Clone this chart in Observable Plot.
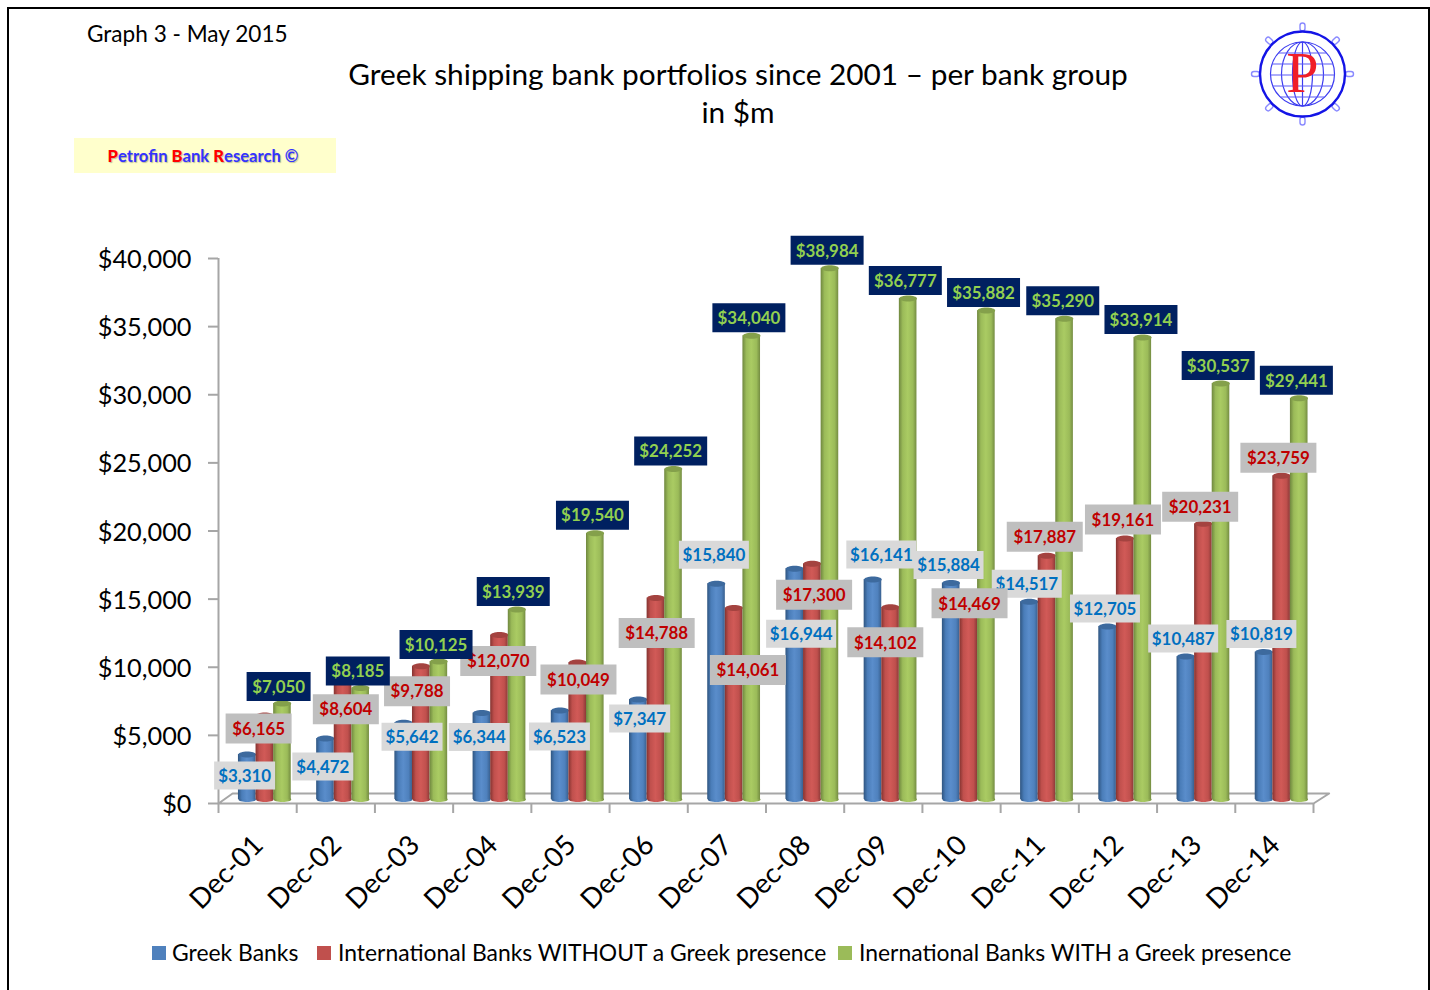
<!DOCTYPE html>
<html>
<head>
<meta charset="utf-8">
<script src="https://cdn.jsdelivr.net/npm/d3@7"></script>
<script src="https://cdn.jsdelivr.net/npm/@observablehq/plot@0.6"></script>
<style>
  html, body { margin: 0; padding: 0; background: #fff; overflow: hidden; }
  #page { position: relative; width: 1430px; height: 990px; font-family: Lato, sans-serif; color: #000; overflow: hidden; }
  #page svg.chart { position: absolute; left: 0; top: 0; }
  .abs { position: absolute; white-space: nowrap; }
  #frame { left: 7px; top: 7px; width: 1423px; height: 1100px; border: 2px solid #000; box-sizing: border-box; }
  #graphno { left: 87px; top: 20px; font-size: 22.6px; line-height: 28px; }
  #title { left: 338px; width: 800px; text-align: center; font-size: 29.8px; line-height: 38px; top: 55px; }
  #stamp { left: 74px; top: 138px; width: 258px; height: 35px; padding-right: 4px; background: #ffffcc; text-align: center; font-size: 16.6px; font-weight: 700; line-height: 37px; color: #3333ff; text-shadow: 1px 1px 1px rgba(0,0,0,.25); }
  #stamp b { color: #ff0000; }
  .swatch { width: 14px; height: 14px; top: 946px; }
  .legend { top: 937px; font-size: 22.9px; line-height: 30px; }
  #logo { left: 1240px; top: 15px; }
</style>
</head>
<body>
<div id="page">
  <div class="abs" id="frame"></div>
  <div class="abs" id="graphno">Graph 3 - May 2015</div>
  <div class="abs" id="title">Greek shipping bank portfolios since 2001 – per bank group<br>in $m</div>
  <div class="abs" id="stamp"><b>P</b>etrofin <b>B</b>ank <b>R</b>esearch ©</div>
  <div class="abs swatch" style="left:152px;background:#4f81bd"></div>
  <div class="abs legend" style="left:172px">Greek Banks</div>
  <div class="abs swatch" style="left:317px;background:#c0504d"></div>
  <div class="abs legend" style="left:338px">International Banks WITHOUT a Greek presence</div>
  <div class="abs swatch" style="left:838px;background:#9bbb59"></div>
  <div class="abs legend" style="left:859px">Inernational Banks WITH a Greek presence</div>
</div>
<script>
// ---- data ----
const categories = ["Dec-01","Dec-02","Dec-03","Dec-04","Dec-05","Dec-06","Dec-07","Dec-08","Dec-09","Dec-10","Dec-11","Dec-12","Dec-13","Dec-14"];
const greekBanks = [3310,4472,5642,6344,6523,7347,15840,16944,16141,15884,14517,12705,10487,10819];
const intlWithout = [6165,8604,9788,12070,10049,14788,14061,17300,14102,14469,17887,19161,20231,23759];
const intlWith = [7050,8185,10125,13939,19540,24252,34040,38984,36777,35882,35290,33914,30537,29441];
const yTicks = [0,5000,10000,15000,20000,25000,30000,35000,40000];

// ---- hand-placed data-label offsets (pixels from the top of each bar) ----
const greekLabelDx = [-13,-13,-2,-13,-11,-9,-13,-4,-2,-13,-13,-13,-13,-13];
const greekLabelDy = [17,24,10,20,22,15,-33,61,-29,-22,-22,-22,-22,-22];
const withoutLabelDx = [1,10,3,6,8,8,21,9,2,8,5,5,4,4];
const withoutLabelDy = [9,23,21,22,13,31,58,27,31,-3,-23,-23,-21,-22];
const withLabelDx = [21,22,22,21,22,22,22,22,22,22,23,23,22,22];
const withLabelDy = [-21,-21,-21,-22,-22,-22,-22,-22,-22,-22,-22,-22,-22,-22];

// ---- layout ----
const fmt = d => "$" + d3.format(",")(d);
const barW = 0.225, liftPx = -4, gray = "#a6a6a6";
const ellipse = (rx, ry) => ({draw(c) {
  const k = 0.5523;
  c.moveTo(-rx, 0);
  c.bezierCurveTo(-rx, -ry * k, -rx * k, -ry, 0, -ry);
  c.bezierCurveTo(rx * k, -ry, rx, -ry * k, rx, 0);
  c.bezierCurveTo(rx, ry * k, rx * k, ry, 0, ry);
  c.bezierCurveTo(-rx * k, ry, -rx, ry * k, -rx, 0);
  c.closePath();
}});
const box = (w, h) => ({draw(c) { c.rect(-w / 2, -h / 2, w, h); }});

function defs() {
  const ns = "http://www.w3.org/2000/svg";
  const d = document.createElementNS(ns, "defs");
  const grads = {
    gBlue: ["#2f5580", "#4a7db9", "#5a8dcb", "#4f81bd", "#39608f"],
    gRed: ["#843330", "#c0504d", "#d15a57", "#c0504d", "#8c3a38"],
    gGreen: ["#6f873f", "#9bbb59", "#aacb63", "#9bbb59", "#748c42"]
  };
  const stops = [0, 0.22, 0.5, 0.8, 1];
  for (const id in grads) {
    const g = document.createElementNS(ns, "linearGradient");
    g.setAttribute("id", id);
    grads[id].forEach((col, i) => {
      const s = document.createElementNS(ns, "stop");
      s.setAttribute("offset", stops[i]);
      s.setAttribute("stop-color", col);
      g.appendChild(s);
    });
    d.appendChild(g);
  }
  return d;
}

function bars(values, offset, grad, cap) {
  const rows = values.map((v, i) => ({i, v}));
  const xc = d => d.i + offset + barW / 2;
  return [
    Plot.dot(rows, {x: xc, y: () => 0, symbol: ellipse(8.8, 2.5), fill: `url(#${grad})`, stroke: "none", dy: liftPx}),
    Plot.rect(rows, {x1: d => d.i + offset, x2: d => d.i + offset + barW, y1: () => 0, y2: d => d.v, fill: `url(#${grad})`, dy: liftPx}),
    Plot.dot(rows, {x: xc, y: d => d.v, symbol: ellipse(8.8, 3), fill: cap, stroke: "none", dy: liftPx})
  ];
}

function labels(values, dxs, dys, bg, ink, shortW, longW, h) {
  return values.flatMap((v, i) => {
    const row = [{i, v}];
    const o = {x: d => d.i + 0.5, y: d => d.v, dx: dxs[i]};
    return [
      Plot.dot(row, {...o, dy: dys[i], symbol: box(v >= 10000 ? longW : shortW, h), fill: bg, stroke: "none"}),
      Plot.text(row, {...o, dy: dys[i] + 0.8, text: d => fmt(d.v), fill: ink, fontSize: 16.9, fontWeight: 700, textAnchor: "middle", lineAnchor: "middle"})
    ];
  });
}

const chart = Plot.plot({
  width: 1430, height: 990,
  marginLeft: 218, marginRight: 117, marginTop: 258, marginBottom: 187,
  style: {background: "transparent", fontFamily: "Lato, sans-serif", overflow: "visible"},
  className: "chart",
  x: {domain: [0, 14], axis: null},
  y: {domain: [0, 40000], axis: null},
  marks: [
    defs,
    Plot.line([[0, 0], [0.18, 734], [14.2, 734], [14, 0], [0, 0]], {x: d => d[0], y: d => d[1], stroke: gray, strokeWidth: 2, fill: "#fdfdfd"}),
    Plot.ruleX([0], {stroke: gray, strokeWidth: 2}),
    Plot.axisY({ticks: yTicks, tickSize: 10, stroke: gray, strokeWidth: 2, fill: "none", label: null}),
    Plot.text(yTicks, {x: () => 0, y: d => d, text: fmt, dx: -27, dy: 1.5, fontSize: 25.3, fill: "#000", textAnchor: "end", lineAnchor: "middle"}),
    Plot.axisX({ticks: d3.range(15), tickSize: 10, stroke: gray, strokeWidth: 2, fill: "none", label: null}),
    Plot.text(categories, {x: (d, i) => i + 0.5, y: () => 0, text: d => d, rotate: -45, dx: -31, dy: 69, fontSize: 27.5, fill: "#000", textAnchor: "middle", lineAnchor: "middle"}),
    ...bars(greekBanks, 0.255, "gBlue", "#3d6a9e"),
    ...bars(intlWithout, 0.48, "gRed", "#a44340"),
    ...bars(intlWith, 0.705, "gGreen", "#84a04b"),
    ...labels(greekBanks, greekLabelDx, greekLabelDy, "#d9d9d9", "#0070c0", 61, 70, 28),
    ...labels(intlWithout, withoutLabelDx, withoutLabelDy, "#bfbfbf", "#c00000", 66, 76, 30),
    ...labels(intlWith, withLabelDx, withLabelDy, "#002060", "#92d050", 64, 73, 29)
  ]
});
document.getElementById("page").insertBefore(chart, document.getElementById("frame"));

// ---- company logo ----
const cx = 62.5, cy = 59;
const knobs = d3.range(8).map(k =>
  `<rect x="${cx - 2.5}" y="${cy - 51}" width="5" height="8" rx="2.5" fill="#fff" stroke="#8a8aff" stroke-width="1.4" transform="rotate(${k * 45} ${cx} ${cy})"/>`).join("");
const meridians = [32, 21, 10].map(rx => `<ellipse cx="${cx}" cy="${cy}" rx="${rx}" ry="32" fill="none" stroke="#3c3cf0" stroke-width="1.2"/>`).join("");
const parallels = [-21, -10, 1, 12, 23].map(dy => {
  const h = Math.sqrt(32 * 32 - dy * dy);
  return `<line x1="${cx - h}" x2="${cx + h}" y1="${cy + dy}" y2="${cy + dy}" stroke="#5a5af5" stroke-width="1.2"/>`;
}).join("");
const logo = document.createElement("div");
logo.className = "abs";
logo.id = "logo";
logo.innerHTML = `<svg width="126" height="118" viewBox="0 0 126 118">${knobs}
  <circle cx="${cx}" cy="${cy}" r="42.5" fill="#fff" stroke="#1414e6" stroke-width="2.4"/>
  ${meridians}<line x1="${cx}" x2="${cx}" y1="${cy - 32}" y2="${cy + 32}" stroke="#3c3cf0" stroke-width="1.2"/>${parallels}
  <text x="${cx}" y="${cy + 18}" text-anchor="middle" font-family="Liberation Serif" font-size="58" fill="#f01e28">P</text></svg>`;
document.getElementById("page").appendChild(logo);
</script>
</body>
</html>
